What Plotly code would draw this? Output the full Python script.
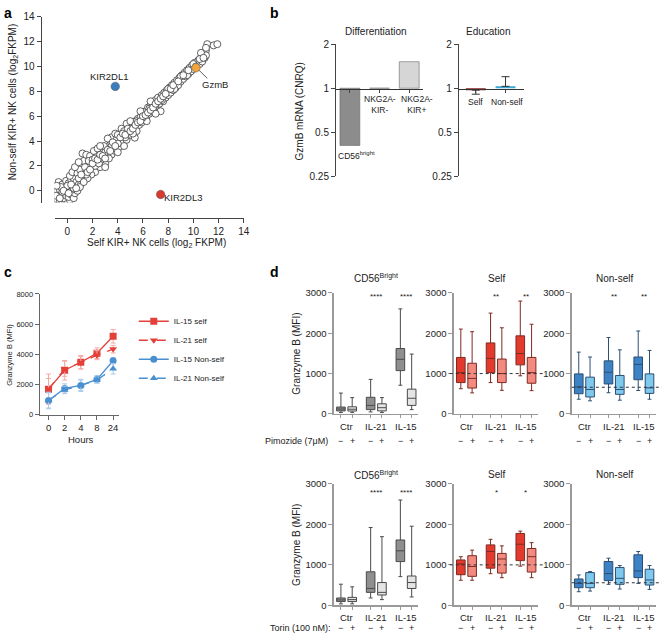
import numpy as np
import plotly.graph_objects as go

W, H = 668, 639
FONT = "Liberation Sans, Arial, Helvetica, sans-serif"


def fx(p):
    return p / W


def fy(p):
    return 1 - p / H


# ---------------- Panel a : scatter of log2 FKPM ----------------
a_self = [
    -0.8, -0.6, -0.4, -0.2, 0.0, 0.2, -0.7, -0.5, -0.3, -0.1,
    0.1, 0.3, 0.5, 0.6, -0.8, -0.6, -0.4, -0.2, 0.0, 0.2,
    0.4, 0.6, 0.8, -0.7, -0.4, -0.1, 0.1, 0.3, 0.5, 0.7,
    0.9, 1.0, 0.2, 0.4, 0.8, 1.1, 1.2, 1.3, 1.0, 0.6,
    1.4, 1.5, 1.6, 1.3, 1.7, 1.8, 1.9, 2.0, 2.1, 2.2,
    2.3, 2.4, 2.5, 2.6, 2.7, 2.8, 2.9, 3.0, 3.1, 3.2,
    1.2, 1.5, 1.8, 2.1, 3.3, 3.4, 3.5, 3.6, 3.7, 3.8,
    3.9, 4.0, 4.1, 4.2, 4.3, 4.4, 4.5, 4.6, 4.7, 4.8,
    4.9, 5.0, 5.1, 5.2, 5.35, 5.3, 5.4, 5.5, 5.6, 5.7,
    5.8, 5.9, 6.0, 6.1, 6.2, 6.3, 6.4, 6.5, 6.6, 6.7,
    6.8, 6.9, 7.0, 7.1, 7.4, 7.2, 7.3, 7.5, 7.6, 7.7,
    7.8, 7.9, 8.0, 8.1, 8.2, 8.3, 8.4, 8.5, 8.6, 8.7,
    8.8, 8.9, 9.0, 9.1, 9.2, 9.3, 9.4, 9.5, 9.6, 9.7,
    9.8, 9.9, 10.0, 10.1, 10.3, 10.4, 10.5, 10.6, 10.7, 10.8,
    10.9, 11.0, 11.1, 11.6, 11.9, 11.0, 11.0, 10.6,
    1.9, 2.4, 2.9, 3.0, 3.5, 4.0, 4.3, 4.7, 5.5, 5.0,
    3.2, 3.8, 2.6, 1.7, 0.9, 4.5, 5.8, 6.3, 6.6, 7.0,
    1.0, 1.6, 2.2, 2.7, 3.3, 3.9, 4.6, 5.2, 6.0, 7.5,
    8.0, 8.5, 9.0, 9.5, 10.0, 10.5, -0.5, 0.0, 0.5, 1.5,
    2.0, 2.5, 3.0, 3.5, 4.0, 4.5, 5.0, 5.5, 6.5, 7.0,
    -0.9, -0.85, -0.6, -0.3, 0.1, 0.3, 0.7, 0.9, 1.1, 1.3,
    1.4, 1.6, 1.8, 2.0, 2.2, 2.4, 2.6, 2.8, 3.0, 3.2,
    3.4, 3.6, 3.8, 4.0, 4.2, 4.4, 4.6, 4.8, 5.0, 5.2,
    5.4, 5.6, 5.8, 6.0, 6.2, 6.4, 6.6, 6.8, 7.0, 7.2,
    7.4, 7.6, 7.8, 8.2, 8.4, 8.8, 9.2, 9.6, 10.2, 10.8,
]
a_nonself = [
    -0.7, -0.85, -0.85, -0.8, -0.85, -0.75, -0.3, -0.5, -0.6, -0.4,
    -0.5, -0.3, -0.6, -0.2, 0.0, 0.1, -0.1, 0.2, 0.0, 0.3,
    0.1, 0.4, 0.0, 0.7, 0.5, 0.8, 0.6, 0.9, 1.0, 0.7,
    0.5, 1.1, 1.2, 1.5, 1.4, 0.6, 0.9, 1.4, 1.7, 1.9,
    1.1, 1.7, 2.1, 2.4, 1.4, 2.0, 2.6, 1.8, 2.3, 1.5,
    2.8, 2.1, 2.6, 1.9, 3.1, 2.4, 2.9, 2.2, 3.4, 2.7,
    3.0, 2.9, 2.8, 3.2, 3.1, 3.7, 2.9, 3.4, 4.0, 3.2,
    3.7, 4.2, 3.5, 4.0, 4.6, 3.9, 4.4, 4.9, 4.1, 4.6,
    5.1, 4.5, 4.9, 5.3, 4.27, 5.0, 5.6, 5.2, 5.8, 5.3,
    5.9, 5.5, 6.2, 5.7, 6.4, 6.0, 6.7, 6.2, 6.9, 6.4,
    7.0, 6.6, 7.3, 6.8, 6.4, 7.5, 7.0, 7.7, 7.2, 7.9,
    7.5, 8.1, 7.7, 8.3, 7.9, 8.5, 8.1, 8.7, 8.3, 8.9,
    8.5, 9.1, 8.8, 9.3, 9.0, 9.5, 9.2, 9.7, 9.4, 9.9,
    9.6, 10.1, 9.8, 10.3, 10.1, 10.5, 10.2, 10.7, 10.4, 11.0,
    10.7, 11.3, 11.8, 11.7, 11.8, 11.5, 10.9, 11.1,
    1.3, 3.4, 3.6, 1.9, 4.3, 3.1, 5.0, 5.4, 4.8, 5.6,
    4.2, 4.6, 3.6, 2.4, 2.3, 3.6, 6.4, 5.6, 7.2, 6.2,
    0.3, 1.0, 2.0, 2.5, 2.6, 4.1, 4.3, 4.6, 5.9, 7.3,
    8.2, 8.2, 9.2, 9.3, 10.2, 10.6, 0.3, 0.4, 0.2, 1.3,
    2.5, 2.2, 3.1, 3.6, 3.8, 4.8, 5.0, 5.6, 6.6, 6.9,
    -0.4, 0.4, -0.6, 0.0, -0.2, 0.5, 0.2, 1.0, 1.3, 0.7,
    1.9, 1.5, 1.7, 2.2, 2.6, 2.5, 2.9, 2.8, 2.6, 3.3,
    3.2, 3.9, 3.6, 4.5, 4.3, 4.6, 4.5, 5.0, 4.8, 5.0,
    5.3, 5.5, 5.6, 6.0, 6.1, 6.3, 6.5, 6.7, 7.0, 7.2,
    7.4, 7.6, 7.8, 8.2, 8.5, 8.8, 9.3, 9.7, 10.0, 10.7,
]
a_genes = ["KIR2DL1", "GzmB", "KIR2DL3"]
a_gene_self = [3.8, 10.2, 7.4]
a_gene_nonself = [8.4, 9.9, -0.3]

# ---------------- Panel b : GzmB mRNA (CNRQ) ----------------
b_diff_cats = ["CD56<sup>bright</sup>", "NKG2A-<br>KIR-", "NKG2A-<br>KIR+"]
b_diff_vals = [0.405, 1.0, 1.52]
b_edu_cats = ["Self", "Non-self"]
b_edu_vals = [0.97, 1.03]
b_edu_err_plus = [0.0, 0.17]
b_edu_err_minus = [0.06, 0.0]
b_ticks = [0.25, 0.5, 1, 2]

# ---------------- Panel c : time course ----------------
c_hours = ["0", "2", "4", "8", "24"]
c_il15_self = [1700, 2950, 3480, 4080, 5200]
c_il15_self_err = [1000, 650, 450, 350, 450]
c_il21_self = [1700, 3050, 3450, 3950, 4350]
c_il21_self_err = [700, 500, 400, 300, 250]
c_il15_non = [950, 1750, 1950, 2350, 3580]
c_il15_non_err = [550, 300, 400, 250, 200]
c_il21_non = [950, 1650, 1950, 2300, 3050]
c_il21_non_err = [500, 250, 350, 200, 350]

# ---------------- Panel d : box plots ----------------
# rows: lower whisker, q1, median, q3, upper whisker
# cols: Ctr-, Ctr+, IL-21-, IL-21+, IL-15-, IL-15+
d_groups = ["Ctr", "IL-21", "IL-15"]
pim_cd56 = [
    [32, 30, 48, 32, 710, 105],
    [73, 70, 105, 73, 1073, 210],
    [121, 115, 210, 153, 1355, 387],
    [169, 175, 411, 250, 1621, 613],
    [516, 403, 855, 403, 2605, 1484],
]
pim_self = [
    [624, 520, 776, 584, 944, 576],
    [776, 640, 1024, 776, 1216, 760],
    [1024, 880, 1376, 1000, 1496, 1024],
    [1400, 1256, 1760, 1360, 1936, 1400],
    [2104, 2040, 2500, 2136, 2800, 2224],
]
pim_non = [
    [363, 323, 524, 339, 580, 363],
    [500, 419, 742, 484, 847, 508],
    [669, 605, 1032, 605, 1226, 645],
    [992, 911, 1315, 952, 1411, 992],
    [1532, 1411, 1895, 1589, 2056, 1573],
]
tor_cd56 = [
    [40, 40, 185, 145, 710, 210],
    [97, 97, 323, 258, 1081, 419],
    [137, 145, 420, 323, 1347, 565],
    [185, 200, 830, 565, 1613, 726],
    [524, 460, 1919, 1694, 2597, 1952],
]
tor_self = [
    [621, 621, 782, 685, 968, 685],
    [758, 718, 919, 798, 1105, 823],
    [1024, 960, 1331, 1145, 1508, 1202],
    [1121, 1226, 1492, 1282, 1774, 1403],
    [1202, 1363, 1629, 1468, 1831, 1548],
]
tor_non = [
    [339, 355, 521, 405, 545, 397],
    [438, 438, 612, 521, 686, 504],
    [545, 545, 785, 669, 851, 628],
    [653, 810, 1083, 934, 1248, 893],
    [752, 835, 1165, 983, 1330, 983],
]
pim_stars = ["", "****", "****"], ["", "**", "**"], ["", "**", "**"]
tor_stars = ["", "****", "****"], ["", "*", "*"], ["", "", ""]
pim_ref = [None, 1000, 660]
tor_ref = [None, 1000, 560]

# ---------------------------------------------------------------
fig = go.Figure()
ann = []
shapes = []


def text(t, x, y, size=9.5, xanchor="center", yanchor="middle", angle=0,
         color="#222", bold=False):
    if bold:
        t = "<b>" + t + "</b>"
    ann.append(dict(text=t, x=fx(x), y=fy(y), xref="paper", yref="paper",
                    showarrow=False, xanchor=xanchor, yanchor=yanchor,
                    textangle=angle,
                    font=dict(size=size, family=FONT, color=color)))


def axstyle(**kw):
    d = dict(showgrid=False, zeroline=False, showline=True, linecolor="#444",
             linewidth=1, ticks="outside", ticklen=4, tickwidth=1,
             tickcolor="#444", fixedrange=True,
             tickfont=dict(size=10, family=FONT, color="#222"))
    d.update(kw)
    return d


layout_axes = {}

# ---- Panel a
layout_axes["xaxis"] = axstyle(domain=[fx(55), fx(246)], range=[-1.02, 14],
                               anchor="free", position=fy(216),
                               tickvals=list(range(0, 15, 2)))
layout_axes["yaxis"] = axstyle(domain=[fy(200), fy(11)], range=[-0.95, 14],
                               anchor="free", position=fx(41),
                               tickvals=list(range(0, 15, 2)))
fig.add_trace(go.Scatter(x=a_self, y=a_nonself, mode="markers",
                         marker=dict(size=7, color="white",
                                     line=dict(color="#3a3a3a", width=0.8)),
                         xaxis="x", yaxis="y", showlegend=False,
                         hoverinfo="skip"))
fig.add_trace(go.Scatter(x=a_gene_self, y=a_gene_nonself, mode="markers",
                         marker=dict(size=8.5, color=["#3b7dbf", "#f0a43a", "#d83a2c"],
                                     line=dict(color="#555", width=0.5)),
                         xaxis="x", yaxis="y", showlegend=False,
                         text=a_genes, hoverinfo="text"))
shapes.append(dict(type="line", xref="x", yref="y", x0=10.45, y0=9.7,
                   x1=11.1, y1=9.05, line=dict(color="#333", width=0.8)))
text(a_genes[0], 110, 72, size=9.5)
text(a_genes[1], 217, 80, size=9.5)
text(a_genes[2], 185, 195, size=9.5)
text("Non-self KIR+ NK cells (log<sub>2</sub>FKPM)", 13, 98, size=10, angle=-90)
text("Self KIR+ NK cells (log<sub>2</sub> FKPM)", 158, 241, size=10)
text("a", 2, 7, size=14, xanchor="left", bold=True, color="#000")

# ---- Panel b
logr = [np.log10(0.25), np.log10(2)]
layout_axes["xaxis2"] = axstyle(domain=[fx(339), fx(427)], range=[-0.47, 2.47],
                                anchor="free", position=fy(84),
                                tickvals=[0, 1, 2], ticklen=3,
                                showticklabels=False, linecolor="#333")
layout_axes["yaxis2"] = axstyle(domain=[fy(173), fy(39)], type="log", range=logr,
                                anchor="x2", tickvals=b_ticks,
                                ticktext=["0.25", "0.5", "1", "2"])
layout_axes["xaxis3"] = axstyle(domain=[fx(463), fx(529)], range=[-0.57, 1.63],
                                anchor="free", position=fy(84),
                                tickvals=[0, 1], ticklen=3,
                                showticklabels=False, linecolor="#333")
layout_axes["yaxis3"] = axstyle(domain=[fy(173), fy(39)], type="log", range=logr,
                                anchor="x3", tickvals=b_ticks,
                                ticktext=["0.25", "0.5", "1", "2"])
fig.add_trace(go.Bar(x=[0, 1, 2], y=[v - 1 for v in b_diff_vals], base=[1, 1, 1],
                     width=0.67, marker=dict(color=["#8c8c8c", "#bdbdbd", "#d6d6d6"],
                                             line=dict(color="#6a6a6a", width=0.6)),
                     xaxis="x2", yaxis="y2", showlegend=False, hoverinfo="skip"))
fig.add_trace(go.Bar(x=[0, 1], y=[v - 1 for v in b_edu_vals], base=[1, 1],
                     width=0.67, marker=dict(color=["#8e1c1c", "#3aa9d8"],
                                             line=dict(width=0)),
                     xaxis="x3", yaxis="y3", showlegend=False, hoverinfo="skip"))
fig.add_trace(go.Scatter(x=[0, 1], y=b_edu_vals, mode="markers",
                         marker=dict(size=1, color="rgba(0,0,0,0)"),
                         error_y=dict(type="data", array=b_edu_err_plus,
                                      arrayminus=b_edu_err_minus, color="#333",
                                      thickness=1, width=4),
                         xaxis="x3", yaxis="y3", showlegend=False,
                         hoverinfo="skip"))
text("Differentiation", 379, 26, size=10)
text("Education", 492, 26, size=10)
text("GzmB mRNA (CNRQ)", 302, 107, size=10, angle=-90)
text(b_diff_cats[0], 360, 152, size=8.5)
text(b_diff_cats[1], 383, 100, size=8.5)
text(b_diff_cats[2], 421, 100, size=8.5)
text(b_edu_cats[0], 480, 98, size=8.5)
text(b_edu_cats[1], 512, 98, size=8.5)
text("b", 270, 7, size=14, xanchor="left", bold=True, color="#000")

# ---- Panel c
RED, BLUE = "#e4403a", "#4a8fd0"
RED_L, BLUE_L = "#f4aaa4", "#a9cbea"
layout_axes["xaxis4"] = axstyle(domain=[fx(40), fx(120)], range=[-0.55, 4.36],
                                anchor="y4", tickvals=[0, 1, 2, 3, 4],
                                ticktext=c_hours, linecolor="#666", tickcolor="#666",
                                tickfont=dict(size=9.5, family=FONT, color="#222"))
layout_axes["yaxis4"] = axstyle(domain=[fy(416), fy(293)], range=[0, 8000],
                                anchor="x4", tickvals=[0, 2000, 4000, 6000, 8000],
                                linecolor="#666", tickcolor="#666",
                                tickfont=dict(size=7.5, family=FONT, color="#222"))
xs = [0, 1, 2, 3, 4]
series = [
    ("IL-15 self", c_il15_self, c_il15_self_err, RED, RED_L, "square", "solid"),
    ("IL-21 self", c_il21_self, c_il21_self_err, RED, RED_L, "triangle-down", "dash"),
    ("IL-15 Non-self", c_il15_non, c_il15_non_err, BLUE, BLUE_L, "circle", "solid"),
    ("IL-21 Non-self", c_il21_non, c_il21_non_err, BLUE, BLUE_L, "triangle-up", "dash"),
]
for name, ys, err, col, colL, sym, dash in series:
    fig.add_trace(go.Scatter(x=xs, y=ys, name=name, mode="lines+markers",
                             line=dict(color=col, width=1.3, dash=dash),
                             marker=dict(symbol=sym, size=7, color=col),
                             error_y=dict(type="data", array=err, color=colL,
                                          thickness=1, width=2.5),
                             xaxis="x4", yaxis="y4", showlegend=True))
text("Granzyme B (MFI)", 10, 355, size=7.5, angle=-90)
text("Hours", 82, 441, size=9.5)
text("c", 2, 271, size=14, xanchor="left", bold=True, color="#000")

# ---- Panel d
box_pos = [0, 0.38, 1, 1.38, 2, 2.38]
pair_c = [0.19, 1.19, 2.19]
lefts = [337, 458, 577]
titles = ["CD56<sup>Bright</sup>", "Self", "Non-self"]
fills = [("#8f8f8f", "#e4e4e4", "#4a4a4a"),
         ("#e23a2c", "#f28a80", "#7e2a22"),
         ("#3d82c4", "#80c9ee", "#2a4f74")]
rows = [
    dict(data=[pim_cd56, pim_self, pim_non], stars=pim_stars, ref=pim_ref,
         top=292, bot=415, title_y=277, star_y=296, lab_y=428, pm_y=443,
         treat="Pimozide (7\u03bcM)", treat_x=333),
    dict(data=[tor_cd56, tor_self, tor_non], stars=tor_stars, ref=tor_ref,
         top=486, bot=610, title_y=477, star_y=495, lab_y=622, pm_y=633,
         treat="Torin (100 nM):", treat_x=336),
]
axn = 5
for row in rows:
    for j in range(3):
        xa, ya = "x%d" % axn, "y%d" % axn
        L = lefts[j]
        layout_axes["xaxis%d" % axn] = axstyle(
            domain=[fx(L), fx(L + 85)], range=[-7 / 30, 78 / 30], anchor=ya,
            tickvals=box_pos, showticklabels=False, ticklen=3, linecolor="#9a9a9a",
            linewidth=1.5, tickcolor="#9a9a9a")
        layout_axes["yaxis%d" % axn] = axstyle(
            domain=[fy(row["bot"]), fy(row["top"])], range=[0, 3000], anchor=xa,
            tickvals=[0, 1000, 2000, 3000], linecolor="#9a9a9a", linewidth=1.5,
            tickcolor="#9a9a9a", tickfont=dict(size=9.5, family=FONT, color="#222"))
        d = row["data"][j]
        fm, fp, lc = fills[j]
        for k, fc in ((0, fm), (1, fp)):
            idx = [k, k + 2, k + 4]
            fig.add_trace(go.Box(
                x=[box_pos[i] for i in idx],
                lowerfence=[d[0][i] for i in idx], q1=[d[1][i] for i in idx],
                median=[d[2][i] for i in idx], q3=[d[3][i] for i in idx],
                upperfence=[d[4][i] for i in idx],
                width=0.29, whiskerwidth=0.45, fillcolor=fc,
                line=dict(color=lc, width=1), boxpoints=False,
                xaxis=xa, yaxis=ya, showlegend=False, hoverinfo="skip"))
        if row["ref"][j] is not None:
            shapes.append(dict(type="line", xref=xa + " domain", yref=ya,
                               x0=-0.05 if j == 1 else 0, x1=1.07,
                               y0=row["ref"][j], y1=row["ref"][j], layer="above",
                               line=dict(color="#333", width=1, dash="dot")))
        px0 = L + 7
        text(titles[j], px0 + 35.7, row["title_y"], size=10)
        for g in range(3):
            cx = px0 + pair_c[g] * 30
            text(d_groups[g], cx, row["lab_y"], size=9.5)
            s = row["stars"][j][g]
            if s:
                text(s, cx, row["star_y"], size=8)
        for i, p in enumerate(box_pos):
            text("\u2212" if i % 2 == 0 else "+", px0 + p * 30, row["pm_y"], size=9)
        axn += 1
    text("Granzyme B (MFI)", 299, (row["top"] + row["bot"]) / 2, size=10, angle=-90)
    text(row["treat"], row["treat_x"], row["pm_y"], size=9, xanchor="right")
text("d", 270, 271, size=14, xanchor="left", bold=True, color="#000")

fig.update_layout(
    width=W, height=H, autosize=False,
    margin=dict(l=0, r=0, t=0, b=0),
    paper_bgcolor="white", plot_bgcolor="rgba(0,0,0,0)",
    font=dict(family=FONT, size=10, color="#222"),
    boxmode="overlay", barmode="overlay",
    legend=dict(x=fx(135), y=fy(306), xanchor="left", yanchor="top",
                font=dict(size=8, family=FONT, color="#222"),
                bgcolor="rgba(0,0,0,0)", tracegroupgap=0, itemwidth=30),
    annotations=ann, shapes=shapes,
    **layout_axes,
)

fig.write_html("out.html", config={"displayModeBar": False, "staticPlot": True},
               post_script="document.body.style.margin='0px';"
                           "document.body.style.padding='0px';")
